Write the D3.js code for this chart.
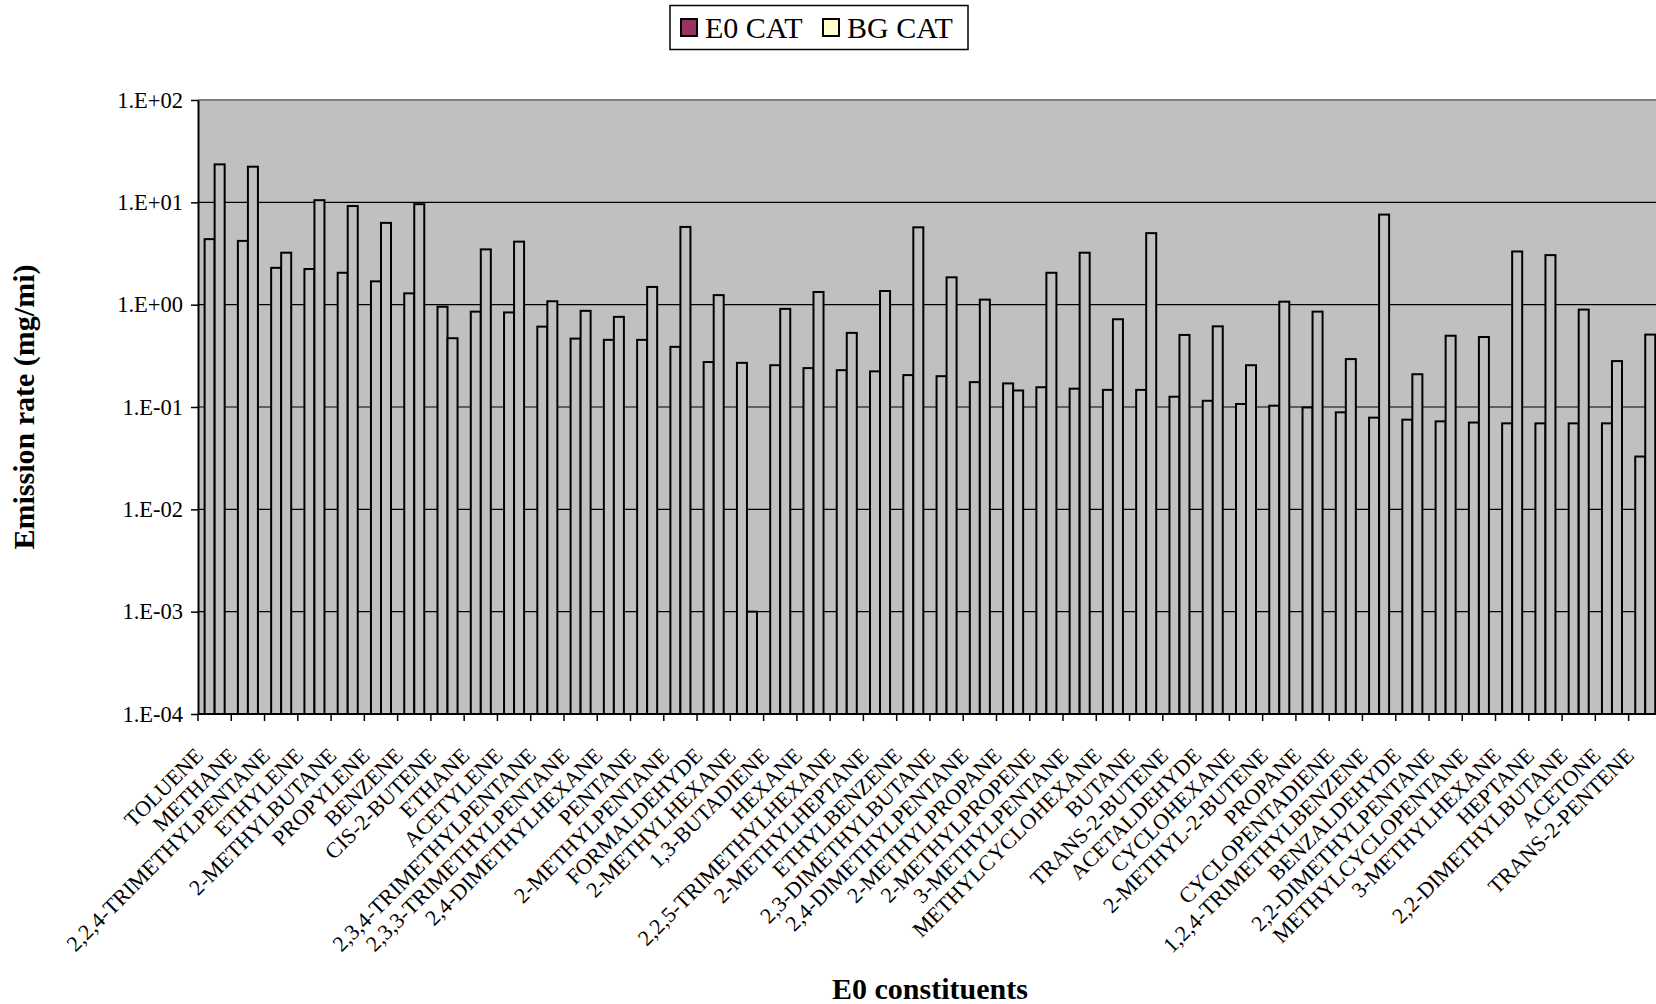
<!DOCTYPE html>
<html>
<head>
<meta charset="utf-8">
<script src="https://cdn.jsdelivr.net/npm/d3@7"></script>
<style>
  html, body { margin: 0; padding: 0; background: #fff; overflow: hidden; }
  svg { display: block; }
  text { font-family: "Liberation Serif", "Times New Roman", Times, serif; fill: #000; }
</style>
</head>
<body>
<svg id="chart" width="1656" height="1004"></svg>
<script>
// Constituents, ordered by E0 CAT emission rate
const categories = [
  "TOLUENE", "METHANE", "2,2,4-TRIMETHYLPENTANE", "ETHYLENE", "2-METHYLBUTANE",
  "PROPYLENE", "BENZENE", "CIS-2-BUTENE", "ETHANE", "ACETYLENE",
  "2,3,4-TRIMETHYLPENTANE", "2,3,3-TRIMETHYLPENTANE", "2,4-DIMETHYLHEXANE", "PENTANE", "2-METHYLPENTANE",
  "FORMALDEHYDE", "2-METHYLHEXANE", "1,3-BUTADIENE", "HEXANE", "2,2,5-TRIMETHYLHEXANE",
  "2-METHYLHEPTANE", "ETHYLBENZENE", "2,3-DIMETHYLBUTANE", "2,4-DIMETHYLPENTANE", "2-METHYLPROPANE",
  "2-METHYLPROPENE", "3-METHYLPENTANE", "METHYLCYCLOHEXANE", "BUTANE", "TRANS-2-BUTENE",
  "ACETALDEHYDE", "CYCLOHEXANE", "2-METHYL-2-BUTENE", "PROPANE", "CYCLOPENTADIENE",
  "1,2,4-TRIMETHYLBENZENE", "BENZALDEHYDE", "2,2-DIMETHYLPENTANE", "METHYLCYCLOPENTANE", "3-METHYLHEXANE",
  "HEPTANE", "2,2-DIMETHYLBUTANE", "ACETONE", "TRANS-2-PENTENE"
];

// Emission rates, mg/mi
const e0Cat = [
  4.37, 4.2, 2.29, 2.23, 2.05,
  1.69, 1.29, 0.955, 0.855, 0.84,
  0.61, 0.466, 0.453, 0.453, 0.387,
  0.275, 0.27, 0.256, 0.24, 0.229,
  0.223, 0.205, 0.2, 0.175, 0.17,
  0.156, 0.151, 0.147, 0.147, 0.126,
  0.115, 0.107, 0.103, 0.099, 0.0887,
  0.0787, 0.0752, 0.0724, 0.0705, 0.0692,
  0.0692, 0.0692, 0.0692, 0.0328
];

const bgCat = [
  23.5, 22.3, 3.22, 10.5, 9.2,
  6.3, 9.6, 0.47, 3.47, 4.13,
  1.08, 0.87, 0.76, 1.49, 5.75,
  1.24, 0.001, 0.91, 1.33, 0.53,
  1.36, 5.7, 1.85, 1.12, 0.145,
  2.05, 3.22, 0.72, 5.0, 0.506,
  0.614, 0.256, 1.07, 0.855, 0.294,
  7.59, 0.209, 0.497, 0.483, 3.31,
  3.05, 0.895, 0.281, 0.51
];

const seriesNames = ["E0 CAT", "BG CAT"];
const seriesColors = ["#993366", "#FFFFCC"];

const yTickValues = [1e2, 1e1, 1e0, 1e-1, 1e-2, 1e-3, 1e-4];
const yTickLabels = ["1.E+02", "1.E+01", "1.E+00", "1.E-01", "1.E-02", "1.E-03", "1.E-04"];

const svg = d3.select("#chart");

const plot = { left: 198, top: 100, bottom: 714, step: 33.27 };
plot.right = plot.left + plot.step * categories.length;

const x = d3.scaleBand()
  .domain(categories)
  .range([plot.left, plot.right])
  .paddingInner(0)
  .paddingOuter(0);

const xSeries = d3.scaleBand()
  .domain(seriesNames)
  .range([0, x.bandwidth()])
  .paddingInner(0)
  .paddingOuter(0.66);

const y = d3.scaleLog()
  .domain([1e-4, 1e2])
  .range([plot.bottom, plot.top]);

// Plot area
svg.append("rect")
  .attr("x", plot.left)
  .attr("y", plot.top)
  .attr("width", plot.right - plot.left)
  .attr("height", plot.bottom - plot.top)
  .attr("fill", "#C0C0C0");

// Decade gridlines
svg.append("g")
  .selectAll("line")
  .data(yTickValues.filter(v => v < 1e2 && v > 1e-4))
  .join("line")
  .attr("x1", plot.left)
  .attr("x2", plot.right)
  .attr("y1", d => y(d))
  .attr("y2", d => y(d))
  .attr("stroke", "#000")
  .attr("stroke-width", 1.2);

// Top border of the plot area
svg.append("line")
  .attr("x1", plot.left)
  .attr("x2", plot.right)
  .attr("y1", y(1e2))
  .attr("y2", y(1e2))
  .attr("stroke", "#808080")
  .attr("stroke-width", 2);

// Bars
const rows = categories.map((c, i) => ({ cat: c, values: [e0Cat[i], bgCat[i]] }));
const groups = svg.append("g")
  .selectAll("g")
  .data(rows)
  .join("g")
  .attr("transform", d => `translate(${x(d.cat)},0)`);

groups.selectAll("rect")
  .data(d => d.values.map((v, k) => ({ series: seriesNames[k], value: v })))
  .join("rect")
  .attr("x", d => xSeries(d.series))
  .attr("y", d => y(d.value))
  .attr("width", xSeries.bandwidth())
  .attr("height", d => y(1e-4) - y(d.value))
  .attr("fill", "#C0C0C0")
  .attr("stroke", "#000")
  .attr("stroke-width", 2);

// Y axis
const yAxis = d3.axisLeft(y)
  .tickValues(yTickValues)
  .tickFormat((d, i) => yTickLabels[i])
  .tickSizeInner(7)
  .tickSizeOuter(0)
  .tickPadding(8);

const yG = svg.append("g")
  .attr("transform", `translate(${plot.left},0)`)
  .call(yAxis);
yG.select(".domain").attr("stroke", "#000").attr("stroke-width", 2);
yG.selectAll(".tick line").attr("stroke", "#000").attr("stroke-width", 1.5);
yG.selectAll(".tick text")
  .style("font-family", '"Liberation Serif", "Times New Roman", serif')
  .style("font-size", "22.5px")
  .attr("fill", "#000");

// X axis line and tick marks at category boundaries
svg.append("line")
  .attr("x1", plot.left)
  .attr("x2", plot.right)
  .attr("y1", plot.bottom)
  .attr("y2", plot.bottom)
  .attr("stroke", "#000")
  .attr("stroke-width", 2);

const boundaries = categories.map(c => x(c)).concat([x(categories[categories.length - 1]) + x.bandwidth()]);
svg.append("g")
  .selectAll("line")
  .data(boundaries)
  .join("line")
  .attr("x1", d => d)
  .attr("x2", d => d)
  .attr("y1", plot.bottom)
  .attr("y2", plot.bottom + 7)
  .attr("stroke", "#000")
  .attr("stroke-width", 1.5);

// Rotated category labels
svg.append("g")
  .selectAll("text")
  .data(categories)
  .join("text")
  .attr("transform", d => `translate(${x(d) + x.bandwidth() / 2 - 10},${plot.bottom + 43}) rotate(-45)`)
  .attr("text-anchor", "end")
  .style("font-size", "22px")
  .text(d => d);

// Axis titles
svg.append("text")
  .attr("x", (plot.left + plot.right) / 2)
  .attr("y", 999)
  .attr("text-anchor", "middle")
  .style("font-size", "30px")
  .style("font-weight", "bold")
  .text("E0 constituents");

svg.append("text")
  .attr("transform", `translate(34,${(plot.top + plot.bottom) / 2}) rotate(-90)`)
  .attr("text-anchor", "middle")
  .style("font-size", "30px")
  .style("font-weight", "bold")
  .text("Emission rate (mg/mi)");

// Legend
const legend = svg.append("g");
legend.append("rect")
  .attr("x", 670)
  .attr("y", 5.5)
  .attr("width", 298)
  .attr("height", 44)
  .attr("fill", "#fff")
  .attr("stroke", "#000")
  .attr("stroke-width", 1.5);

const legendItems = [
  { name: seriesNames[0], color: seriesColors[0], sx: 681, tx: 705 },
  { name: seriesNames[1], color: seriesColors[1], sx: 823, tx: 847 }
];
legendItems.forEach(it => {
  legend.append("rect")
    .attr("x", it.sx)
    .attr("y", 19)
    .attr("width", 16)
    .attr("height", 17)
    .attr("fill", it.color)
    .attr("stroke", "#000")
    .attr("stroke-width", 2);
  legend.append("text")
    .attr("x", it.tx)
    .attr("y", 38)
    .style("font-size", "30px")
    .text(it.name);
});
</script>
</body>
</html>
